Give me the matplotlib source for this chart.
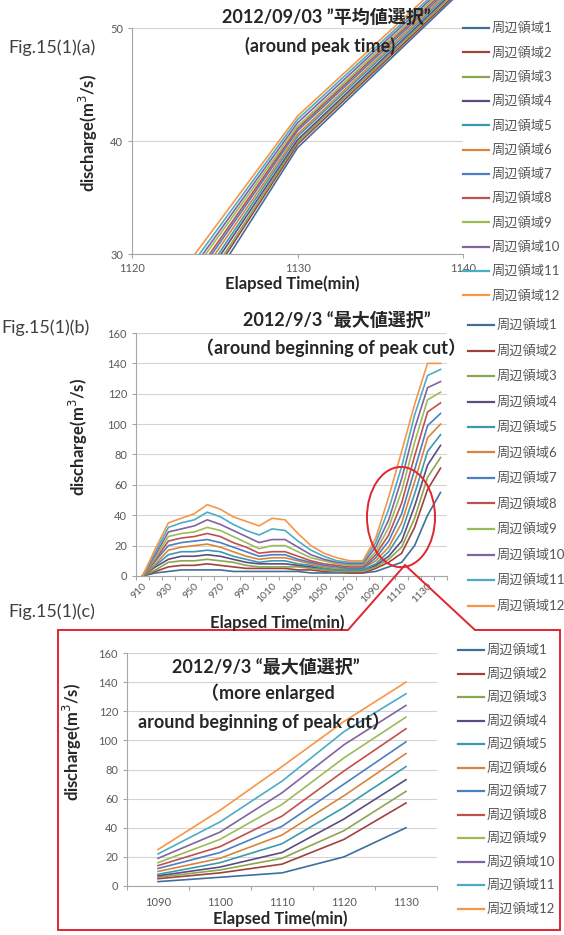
import matplotlib
matplotlib.use('Agg')
import matplotlib.pyplot as plt
from matplotlib.patches import Ellipse, Polygon, Rectangle
from matplotlib.lines import Line2D

plt.rcParams['font.family'] = ['Lato', 'Noto Sans CJK JP', 'DejaVu Sans']

W, H = 564, 935

# ---- data ----
labels = ['周辺領域%d' % i for i in range(1, 13)]
colors = ['#3f6f9a', '#a0413e', '#8ca64f', '#5e4b80', '#3c9ab0', '#d9843c',
          '#4a7fc0', '#c0504d', '#9bbb59', '#8064a2', '#4bacc6', '#f79646']

# (a) 2012/09/03 average selection, around peak time
t_a = [1120, 1130, 1140]
avg_1 = [16.4, 39.4, 53.4]
avg_2 = [17.1, 39.7, 53.6]
avg_3 = [17.5, 39.9, 53.8]
avg_4 = [18.2, 40.1, 54.0]
avg_5 = [18.6, 40.4, 54.2]
avg_6 = [19.3, 40.6, 54.4]
avg_7 = [19.8, 40.9, 54.6]
avg_8 = [20.2, 41.1, 54.8]
avg_9 = [20.9, 41.3, 55.0]
avg_10 = [21.3, 41.6, 55.2]
avg_11 = [21.8, 41.9, 55.4]
avg_12 = [22.5, 42.2, 55.7]
avg_series = [avg_1, avg_2, avg_3, avg_4, avg_5, avg_6,
              avg_7, avg_8, avg_9, avg_10, avg_11, avg_12]

# (b)/(c) 2012/9/3 maximum selection
t_b = [910, 920, 930, 940, 950, 960, 970, 980, 990, 1000, 1010, 1020,
       1030, 1040, 1050, 1060, 1070, 1080, 1090, 1100, 1110, 1120, 1130, 1140]
max_1 = [0, 2, 3, 4, 4, 4, 4, 3, 3, 3, 3, 3, 3, 2, 2, 2, 2, 2, 3, 6, 9, 20, 40, 55]
max_2 = [0, 3, 6, 7, 7, 8, 7, 6, 5, 5, 5, 5, 4, 4, 3, 3, 2, 2, 5, 9, 15, 32, 57, 71]
max_3 = [0, 4, 9, 10, 10, 11, 10, 9, 7, 6, 6, 6, 6, 5, 4, 3, 3, 3, 6, 11, 19, 38, 65, 78]
max_4 = [0, 6, 11, 13, 13, 14, 13, 11, 9, 8, 8, 8, 7, 6, 5, 4, 4, 4, 7, 13, 23, 46, 73, 86]
max_5 = [0, 7, 14, 16, 16, 17, 16, 13, 11, 9, 10, 10, 8, 7, 5, 4, 4, 4, 8, 16, 29, 54, 82, 93]
max_6 = [0, 8, 17, 19, 20, 21, 19, 16, 13, 11, 12, 12, 10, 8, 6, 5, 5, 5, 10, 19, 35, 62, 91, 100]
max_7 = [0, 10, 20, 22, 23, 24, 22, 19, 16, 13, 14, 14, 11, 9, 7, 6, 5, 5, 12, 23, 41, 70, 99, 107]
max_8 = [0, 11, 23, 25, 26, 28, 26, 22, 19, 15, 16, 16, 13, 10, 8, 7, 6, 6, 14, 27, 48, 79, 108, 114]
max_9 = [0, 12, 26, 28, 29, 32, 30, 26, 22, 18, 20, 20, 16, 12, 10, 8, 7, 7, 16, 32, 56, 88, 116, 121]
max_10 = [0, 14, 29, 31, 33, 37, 34, 30, 26, 22, 24, 24, 19, 14, 11, 9, 8, 8, 19, 37, 64, 97, 124, 128]
max_11 = [0, 16, 32, 35, 37, 42, 39, 34, 30, 27, 31, 30, 23, 17, 13, 10, 9, 9, 22, 44, 72, 106, 132, 136]
max_12 = [0, 18, 35, 38, 41, 47, 44, 39, 36, 33, 38, 37, 28, 20, 15, 12, 10, 10, 25, 52, 82, 113, 140, 140]
max_series = [max_1, max_2, max_3, max_4, max_5, max_6,
              max_7, max_8, max_9, max_10, max_11, max_12]

t_c = [1090, 1100, 1110, 1120, 1130]
c_start = t_b.index(1090)
c_end = t_b.index(1130) + 1

TITLE_SIZE = 13
AXLAB_SIZE = 12
FIG_SIZE = 13


def fx(x):
    return x / W


def fy(y):
    return 1 - y / H


def make_axes(l, t, r, b):
    return fig.add_axes([fx(l), fy(b), (r - l) / W, (b - t) / H])


def excel_style(ax):
    for s in ['top', 'right']:
        ax.spines[s].set_visible(False)
    for s in ['left', 'bottom']:
        ax.spines[s].set_color('#a6a6a6')
        ax.spines[s].set_linewidth(0.8)
    ax.yaxis.grid(True, color='#d4d4d4', linewidth=0.8)
    ax.set_axisbelow(True)
    ax.tick_params(colors='#a6a6a6', labelcolor='#595959', labelsize=8, length=3)


def legend_rows(x0, y0, dy):
    for i, (lab, col) in enumerate(zip(labels, colors)):
        y = y0 + i * dy
        fig.add_artist(Line2D([fx(x0), fx(x0 + 26)], [fy(y), fy(y)], color=col, lw=1.6))
        fig.text(fx(x0 + 29), fy(y), lab, fontsize=9.5, color='#555555', va='center', ha='left')


def title_text(x, y, s):
    fig.text(fx(x), fy(y), s, fontsize=TITLE_SIZE, fontweight='bold', color='#262626',
             ha='center', va='center')


def axis_labels(xl, yl):
    fig.text(fx(yl[0]), fy(yl[1]), 'discharge(m$^3$/s)', rotation=90, fontsize=AXLAB_SIZE,
             fontweight='bold', color='#262626', ha='center', va='center')
    fig.text(fx(xl[0]), fy(xl[1]), 'Elapsed Time(min)', fontsize=AXLAB_SIZE,
             fontweight='bold', color='#262626', ha='center', va='center')


fig = plt.figure(figsize=(W / 100, H / 100), dpi=100)

# ---------------- (a) ----------------
ax1 = make_axes(132, 28, 463, 254)
excel_style(ax1)
clip = Rectangle((0, 0), 1, 1.2, transform=ax1.transAxes, visible=False)
ax1.add_patch(clip)
for ys, col in zip(avg_series, colors):
    ln, = ax1.plot(t_a, ys, color=col, lw=1.2)
    ln.set_clip_path(clip)
ax1.set_xlim(1120, 1140)
ax1.set_ylim(30, 50)
ax1.set_xticks([1120, 1130, 1140])
ax1.set_yticks([30, 40, 50])
axis_labels((292, 284), (88, 133))
title_text(326, 17, '2012/09/03 ”平均値選択”')
title_text(320, 46, '(around peak time)')
fig.text(fx(8), fy(48), 'Fig.15(1)(a)', fontsize=FIG_SIZE, color='#404040', va='center')
legend_rows(463, 28, 24.3)

# ---------------- (b) ----------------
ax2 = make_axes(136, 333, 447, 576)
excel_style(ax2)
for ys, col in zip(max_series, colors):
    ax2.plot(t_b, ys, color=col, lw=1.2)
ax2.set_xlim(905, 1145)
ax2.set_ylim(0, 160)
ax2.set_yticks(range(0, 161, 20))
ax2.set_xticks(range(905, 1146, 10))
ax2.set_xticklabels([])
ax2.set_xticks(t_b[::2], minor=True)
ax2.set_xticklabels([str(t) for t in t_b[::2]], minor=True, rotation=45,
                    ha='right', va='top', rotation_mode='anchor')
ax2.tick_params(axis='x', which='minor', length=0, labelsize=7.5, labelcolor='#595959', pad=4)
ell = Ellipse((1109.5, 38.8), 52.5, 66, fill=False, edgecolor='#e0262f', lw=1.4,
              clip_on=False, zorder=5)
ax2.add_patch(ell)
axis_labels((277, 623), (78, 437))
title_text(337, 320, '2012/9/3 “最大値選択”')
title_text(331, 348, '（around beginning of peak cut）')
fig.text(fx(1), fy(328), 'Fig.15(1)(b)', fontsize=FIG_SIZE, color='#404040', va='center')
legend_rows(468, 325, 25.5)

# ---------------- (c) ----------------
fig.text(fx(8), fy(612), 'Fig.15(1)(c)', fontsize=FIG_SIZE, color='#404040', va='center')
box = Polygon([(fx(58), fy(630)), (fx(348), fy(630)), (fx(405), fy(565)), (fx(475), fy(630)),
               (fx(560), fy(630)), (fx(560), fy(930)), (fx(58), fy(930))],
              closed=True, fill=False, edgecolor='#e0262f', lw=1.4,
              transform=fig.transFigure)
fig.add_artist(box)

ax3 = make_axes(127, 653, 437, 886)
excel_style(ax3)
for ys, col in zip(max_series, colors):
    ax3.plot(t_c, ys[c_start:c_end], color=col, lw=1.2)
ax3.set_xlim(1085, 1135)
ax3.set_ylim(0, 160)
ax3.set_yticks(range(0, 161, 20))
ax3.set_xticks(range(1085, 1136, 10))
ax3.set_xticklabels([])
ax3.set_xticks(t_c, minor=True)
ax3.set_xticklabels([str(t) for t in t_c], minor=True)
ax3.tick_params(axis='x', which='minor', length=0, labelsize=8, labelcolor='#595959', pad=8)
axis_labels((280, 919), (72, 742))
title_text(266, 667, '2012/9/3 “最大値選択”')
title_text(268, 693, '（more enlarged')
title_text(264, 722, 'around beginning of peak cut）')
legend_rows(458, 650, 23.5)

fig.savefig('out.png', dpi=100)
